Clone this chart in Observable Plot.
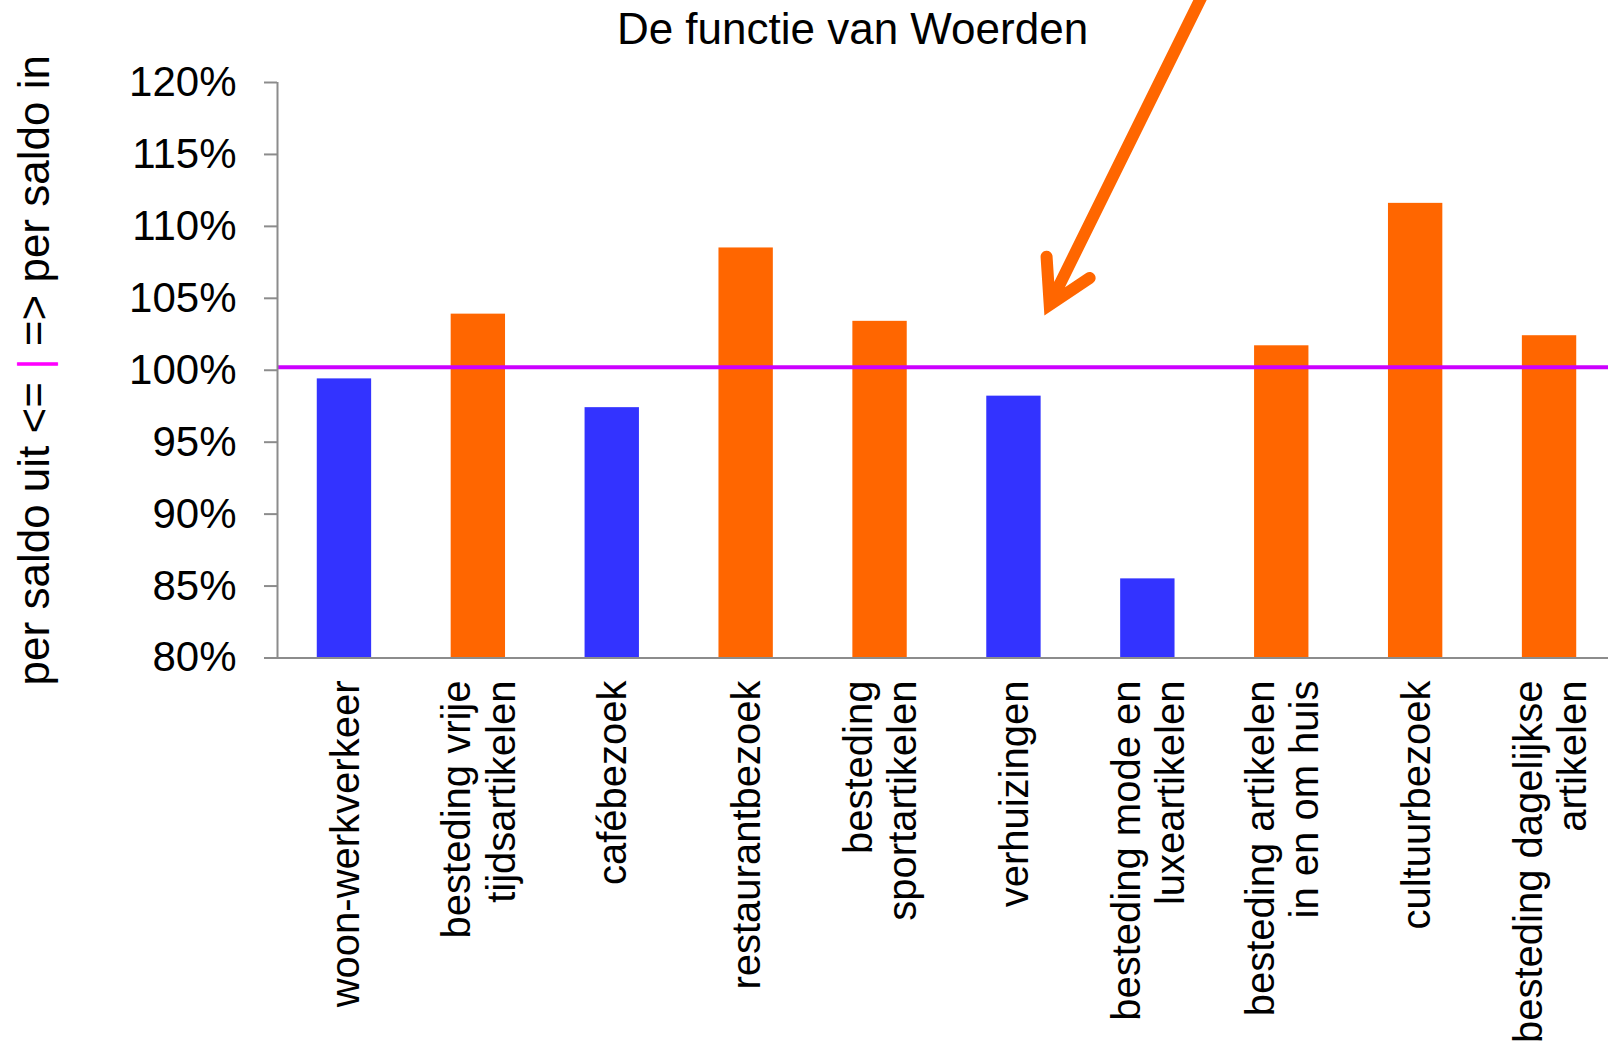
<!DOCTYPE html>
<html>
<head>
<meta charset="utf-8">
<script src="https://cdn.jsdelivr.net/npm/d3@7"></script>
<script src="https://cdn.jsdelivr.net/npm/@observablehq/plot@0.6"></script>
<style>
  html, body { margin: 0; padding: 0; background: white; overflow: hidden; }
  #wrap { position: relative; width: 1608px; height: 1041px; }
  #wrap svg { position: absolute; top: 0; left: 0; }
</style>
</head>
<body>
<div id="wrap"></div>
<script>
// ---- data ----
const categories = [
  "woon-werkverkeer",
  "besteding vrije tijdsartikelen",
  "cafébezoek",
  "restaurantbezoek",
  "besteding sportartikelen",
  "verhuizingen",
  "besteding mode en luxeartikelen",
  "besteding artikelen in en om huis",
  "cultuurbezoek",
  "besteding dagelijkse artikelen"
];
const tickLabels = [
  "woon-werkverkeer",
  "besteding vrije\ntijdsartikelen",
  "cafébezoek",
  "restaurantbezoek",
  "besteding\nsportartikelen",
  "verhuizingen",
  "besteding mode en\nluxeartikelen",
  "besteding artikelen\nin en om huis",
  "cultuurbezoek",
  "besteding dagelijkse\nartikelen"
];
const values = [99.4, 103.9, 97.4, 108.5, 103.4, 98.2, 85.5, 101.7, 111.6, 102.4];
const yTicks = [80, 85, 90, 95, 100, 105, 110, 115, 120];
const balanceLine = [100.2];
const title = "De functie van Woerden";
const yLabel = "per saldo uit <= | => per saldo in";
// annotation arrow (x in category-index units, y in %)
const arrowAnno = [{x1: 6.93, y1: 126.5, x2: 5.767, y2: 104.56}];

const BLUE = "#3333FF", ORANGE = "#FF6600", PURPLE = "#CC00FF", MAGENTA = "#FF00FF", GRAY = "#8c8c8c";
const FONT = "Liberation Sans, Arial, Helvetica, sans-serif";

const data = categories.map((c, i) => ({category: c, label: tickLabels[i], value: values[i]}));

const W = 1608, H = 1041, ML = 277, MT = 82, MB = 383.5;

const main = Plot.plot({
  width: W, height: H,
  marginLeft: ML, marginRight: 0, marginTop: MT, marginBottom: MB,
  style: {fontFamily: FONT, background: "white", color: "black"},
  x: {domain: categories, range: [ML, 1616], paddingInner: 0.594, paddingOuter: 0.297, round: false, axis: null},
  y: {domain: [yTicks[0], yTicks[yTicks.length - 1]], axis: null},
  marks: [
    Plot.barY(data, {x: "category", y1: () => yTicks[0], y2: "value", fill: d => d.value < 100 ? BLUE : ORANGE}),
    Plot.ruleY(balanceLine, {stroke: PURPLE, strokeWidth: 4}),
    Plot.ruleY([yTicks[0]], {stroke: GRAY, strokeWidth: 2}),
    Plot.axisY({ticks: yTicks, tickSize: 13, tickPadding: 28, fontSize: 42, stroke: GRAY, strokeWidth: 2,
                tickFormat: d => `${d}%`, label: null}),
    Plot.text(data, {x: "category", text: "label", frameAnchor: "bottom", dy: 22.5, rotate: -90,
                     textAnchor: "end", lineAnchor: "middle", lineHeight: 1.11, fontSize: 40, fill: "black"}),
    Plot.text([title], {frameAnchor: "top", dx: 852 - (ML + W) / 2, dy: 29.2 - MT, lineAnchor: "middle",
                        textAnchor: "middle", fontSize: 44, fill: "black"}),
    Plot.text([yLabel], {frameAnchor: "left", dx: 34 - ML, rotate: -90, textAnchor: "middle",
                         lineAnchor: "middle", fontSize: 44, fill: "black", className: "ylabel"})
  ]
});

// colour the "|" in the y label
d3.select(main).selectAll("text").each(function() {
  const t = d3.select(this);
  if (this.textContent === yLabel) {
    const parts = yLabel.split("|");
    t.text(null);
    t.append("tspan").text(parts[0]);
    t.append("tspan").attr("fill", MAGENTA).text("|");
    t.append("tspan").text(parts[1]);
  }
});

const overlay = Plot.plot({
  width: W, height: H,
  marginLeft: 0, marginRight: 0, marginTop: 0, marginBottom: 0,
  style: {background: "transparent", overflow: "hidden"},
  x: {type: "linear", domain: [0, categories.length], range: [ML, 1616], axis: null},
  y: {type: "linear", domain: [yTicks[0], yTicks[yTicks.length - 1]], range: [H - MB, MT], axis: null},
  marks: [
    Plot.ruleX([0], {y1: yTicks[0], y2: yTicks[yTicks.length - 1], stroke: GRAY, strokeWidth: 2}),
    Plot.arrow(arrowAnno, {x1: "x1", y1: "y1", x2: "x2", y2: "y2", stroke: ORANGE, strokeWidth: 12,
                           headLength: 6, headAngle: 60, strokeLinecap: "round",
                           strokeLinejoin: "miter", strokeMiterlimit: 4})
  ]
});

const wrap = document.getElementById("wrap");
wrap.appendChild(main);
wrap.appendChild(overlay);
</script>
</body>
</html>
